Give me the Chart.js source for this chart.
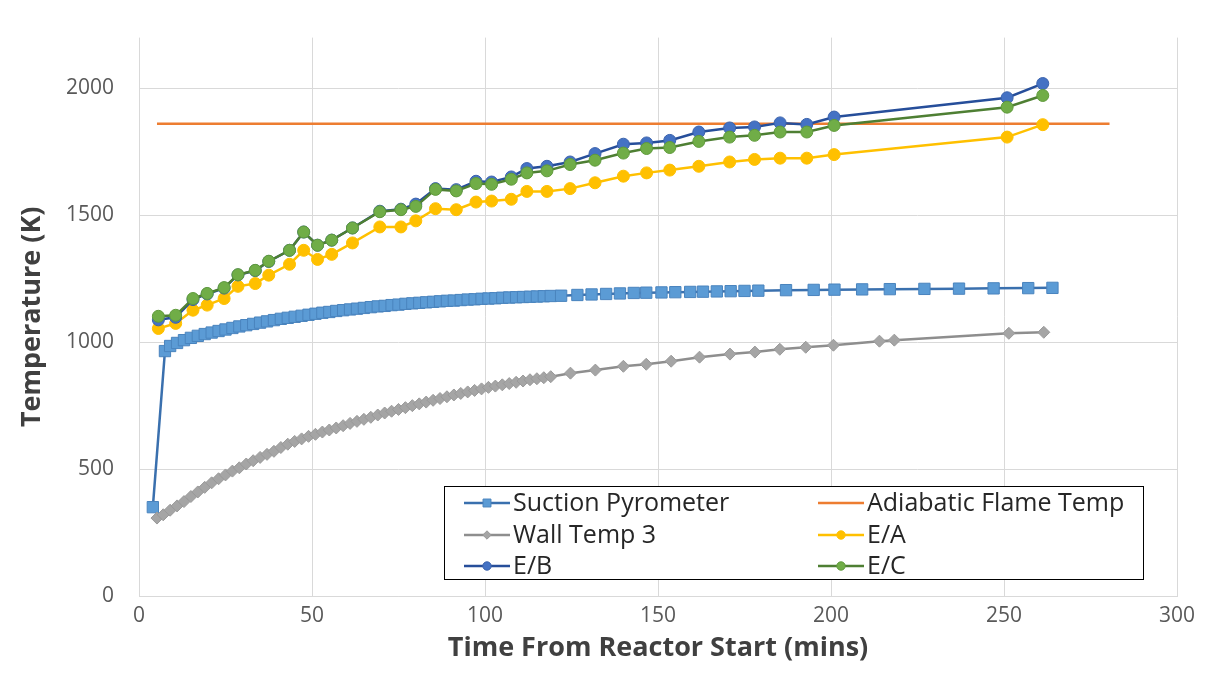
<!DOCTYPE html>
<html>
<head>
<meta charset="utf-8">
<script src="https://cdn.jsdelivr.net/npm/chart.js@4.4.0/dist/chart.umd.min.js"></script>
<style>
  html, body { margin: 0; padding: 0; background: #fff; }
  #wrap { width: 1214px; height: 676px; position: relative; }
</style>
</head>
<body>
<div id="wrap"><canvas id="tempChart" width="1214" height="676"></canvas></div>
<script>
// Suction pyrometer (dense logging up to ~2 h, then every few minutes)
const suctionTime = [4, 7.5, 9, 11, 13, 15, 17, 19, 21, 23, 25, 27, 29, 31, 33, 35, 37, 39, 41, 43, 45, 47, 49, 51, 53, 55, 57, 59, 61, 63, 65, 67, 69, 71, 73, 75, 77, 79, 81, 83, 85, 87, 89, 91, 93, 95, 97, 99, 101, 103, 105, 107, 109, 111, 113, 115, 117, 119,
  122, 126.7, 130.8, 135, 139, 143, 146.6, 151, 155, 159.3, 163, 167, 171, 175, 179, 187, 195, 201, 209, 217, 227, 237, 247, 257, 264];
const suctionTemp = [350, 965, 985, 997, 1008, 1017, 1025, 1032, 1038, 1044, 1050, 1056, 1062, 1067, 1072, 1077, 1082, 1087, 1092, 1096, 1100, 1104, 1108, 1112, 1116, 1119, 1123, 1126, 1129, 1132, 1135, 1138, 1141, 1143, 1146, 1148, 1151, 1153, 1155, 1157, 1159, 1161, 1163, 1164, 1166, 1168, 1169, 1171, 1172, 1173, 1175, 1176, 1177, 1178, 1179, 1180, 1181, 1182,
  1183, 1186, 1188, 1190, 1192, 1194, 1195, 1196, 1197, 1198, 1199, 1200, 1201, 1202, 1203, 1205, 1206, 1207, 1208, 1209, 1210, 1211, 1212, 1213, 1214];

// Wall temp 3
const wallTime = [5.2, 7, 9, 11, 13, 15, 17, 19, 21, 23, 25, 27, 29, 31, 33, 35, 37, 39, 41, 43, 45, 47, 49, 51, 53, 55, 57, 59, 61, 63, 65, 67, 69, 71, 73, 75, 77, 79, 81, 83, 85, 87, 89, 91, 93, 95, 97, 99, 101, 103, 105, 107, 109, 111, 113, 115, 117, 119,
  124.7, 131.9, 140, 146.6, 153.8, 162, 170.8, 178, 185.2, 192.7, 200.7, 214, 218.3, 251.4, 261.5];
const wallTemp = [307, 320, 338, 355, 372, 392, 410, 428, 446, 462, 477, 492, 505, 520, 533, 546, 558, 570, 585, 598, 609, 619, 629, 637, 646, 654, 662, 671, 680, 688, 696, 704, 713, 721, 728, 735, 742, 750, 757, 764, 771, 778, 785, 792, 798, 804, 810, 816, 822, 827, 832, 837, 842, 847, 852, 856, 860, 864,
  878, 890, 905, 913, 925, 941, 953, 961, 972, 980, 988, 1004, 1008, 1035, 1039];

// Adiabatic flame temperature (constant)
const flameTime = [5.2, 280.5];
const flameTemp = [1861, 1861];

// Estimates E/A, E/B, E/C share the same sample times
const estTime = [5.6, 10.6, 15.6, 19.7, 24.6, 28.6, 33.6, 37.5, 43.5, 47.6, 51.6, 55.7, 61.7, 69.6, 75.7, 80, 85.7, 91.7, 97.4, 101.9, 107.6, 112.1, 117.9, 124.6, 131.8, 140, 146.7, 153.4, 161.8, 170.7, 177.9, 185.3, 193, 200.9, 250.9, 261.2];
const estA = [1054, 1074, 1126, 1146, 1172, 1220, 1231, 1264, 1307, 1362, 1326, 1346, 1391, 1454, 1454, 1478, 1526, 1522, 1552, 1556, 1563, 1594, 1594, 1605, 1628, 1654, 1667, 1678, 1693, 1710, 1720, 1725, 1725, 1739, 1808, 1857];
const estB = [1088, 1098, 1168, 1190, 1213, 1265, 1282, 1318, 1362, 1434, 1382, 1402, 1450, 1516, 1524, 1544, 1605, 1601, 1634, 1631, 1651, 1684, 1693, 1710, 1743, 1780, 1785, 1795, 1828, 1844, 1848, 1864, 1858, 1887, 1963, 2019];
const estC = [1102, 1106, 1172, 1192, 1215, 1266, 1283, 1319, 1362, 1434, 1382, 1402, 1450, 1514, 1522, 1535, 1602, 1596, 1625, 1622, 1642, 1667, 1675, 1700, 1717, 1745, 1763, 1767, 1791, 1808, 1815, 1828, 1828, 1854, 1926, 1972];

const xTicks = [0, 50, 100, 150, 200, 250, 300];
const yTicks = [0, 500, 1000, 1500, 2000];

const FONT = '"Open Sans", "Noto Sans", sans-serif';

const toPoints = (xs, ys) => xs.map((x, i) => ({ x: x, y: ys[i] }));

// order: later series are painted on top, like the spreadsheet does
const datasets = [
  { label: 'Suction Pyrometer', data: toPoints(suctionTime, suctionTemp), borderColor: '#3A70AE', borderWidth: 2.5, order: 5,
    pointStyle: 'rect', pointRadius: 8, pointBackgroundColor: '#5B9BD5', pointBorderColor: '#4A84BE', pointBorderWidth: 1 },
  { label: 'Adiabatic Flame Temp', data: toPoints(flameTime, flameTemp), borderColor: '#ED7D31', borderWidth: 2.5, order: 4,
    pointRadius: 0 },
  { label: 'Wall Temp 3', data: toPoints(wallTime, wallTemp), borderColor: '#8E8E8E', borderWidth: 2.5, order: 3,
    pointStyle: 'rectRot', pointRadius: 6, pointBackgroundColor: '#A5A5A5', pointBorderColor: '#999999', pointBorderWidth: 1 },
  { label: 'E/A', data: toPoints(estTime, estA), borderColor: '#FFC000', borderWidth: 2.5, order: 2,
    pointStyle: 'circle', pointRadius: 6, pointBackgroundColor: '#FFC000', pointBorderColor: '#FFC000', pointBorderWidth: 1 },
  { label: 'E/B', data: toPoints(estTime, estB), borderColor: '#264E9A', borderWidth: 2.5, order: 1,
    pointStyle: 'circle', pointRadius: 6, pointBackgroundColor: '#4472C4', pointBorderColor: '#3A62AC', pointBorderWidth: 1 },
  { label: 'E/C', data: toPoints(estTime, estC), borderColor: '#4E7F33', borderWidth: 2.5, order: 0,
    pointStyle: 'circle', pointRadius: 6, pointBackgroundColor: '#70AD47', pointBorderColor: '#5F9A3B', pointBorderWidth: 1 }
];

// Excel-style boxed legend inside the plot area (two columns, three rows)
const boxLegend = {
  id: 'boxLegend',
  afterDraw(chart) {
    const ctx = chart.ctx;
    const box = { left: 444, top: 486, right: 1143, bottom: 579 };
    ctx.save();
    ctx.fillStyle = '#ffffff';
    ctx.fillRect(box.left, box.top, box.right - box.left, box.bottom - box.top);
    ctx.strokeStyle = '#000000';
    ctx.lineWidth = 1;
    ctx.strokeRect(box.left + 0.5, box.top + 0.5, box.right - box.left, box.bottom - box.top);

    const colX = [464, 818];
    const rowY = [503, 535, 566];
    ctx.font = '25px ' + FONT;
    ctx.textBaseline = 'middle';
    chart.data.datasets.forEach((ds, i) => {
      const x = colX[i % 2];
      const y = rowY[Math.floor(i / 2)];
      ctx.strokeStyle = ds.borderColor;
      ctx.lineWidth = 2.5;
      ctx.beginPath();
      ctx.moveTo(x, y);
      ctx.lineTo(x + 46, y);
      ctx.stroke();
      if (ds.pointRadius > 0) {
        ctx.fillStyle = ds.pointBackgroundColor;
        ctx.strokeStyle = ds.pointBorderColor;
        ctx.lineWidth = 1;
        Chart.helpers.drawPoint(ctx, { pointStyle: ds.pointStyle, radius: ds.pointRadius * 0.7, borderWidth: 1, rotation: 0 }, x + 23, y);
      }
      ctx.fillStyle = '#262626';
      ctx.fillText(ds.label, x + 49, y + 1);
    });
    ctx.restore();
  }
};

new Chart(document.getElementById('tempChart'), {
  type: 'line',
  data: { datasets: datasets },
  options: {
    responsive: false,
    animation: false,
    layout: { padding: { top: 37, right: 37, left: 0, bottom: 0 } },
    plugins: { legend: { display: false }, tooltip: { enabled: false } },
    elements: { line: { tension: 0 } },
    scales: {
      x: {
        type: 'linear', min: 0, max: 300,
        afterFit: s => { s.height = 80; },
        afterBuildTicks: s => { s.ticks = xTicks.map(v => ({ value: v })); },
        grid: { color: '#D9D9D9', drawTicks: false },
        border: { color: '#D9D9D9' },
        ticks: { padding: 7, color: '#595959', font: { family: FONT, size: 21 }, callback: v => String(v) },
        title: { display: true, text: 'Time From Reactor Start (mins)', color: '#404040',
          font: { family: FONT, size: 27, weight: 'bold' }, padding: { top: 0, bottom: 11 } }
      },
      y: {
        type: 'linear', min: 0, max: 2200,
        afterFit: s => { s.width = 139; },
        afterBuildTicks: s => { s.ticks = yTicks.map(v => ({ value: v })); },
        grid: { color: '#D9D9D9', drawTicks: false },
        border: { display: false },
        ticks: { padding: 25, color: '#595959', font: { family: FONT, size: 21 }, callback: v => String(v) },
        title: { display: true, text: 'Temperature (K)', color: '#404040',
          font: { family: FONT, size: 27, weight: 'bold' }, padding: { top: 16, bottom: 0 } }
      }
    }
  },
  plugins: [boxLegend]
});
</script>
</body>
</html>
